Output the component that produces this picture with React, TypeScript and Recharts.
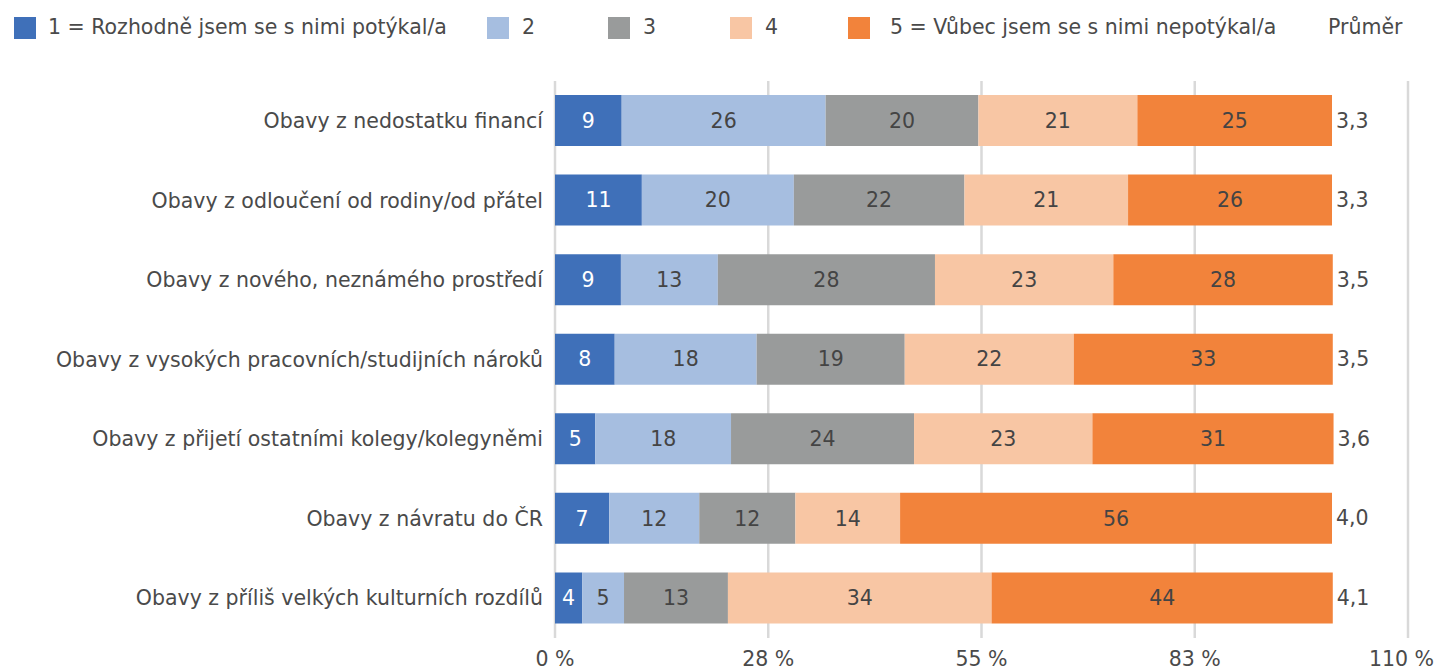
import React from "react";
import {
  BarChart,
  Bar,
  XAxis,
  YAxis,
  CartesianGrid,
  LabelList,
} from "recharts";

const categories = [
  "Obavy z nedostatku financí ",
  "Obavy z odloučení od rodiny/od přátel",
  "Obavy z nového, neznámého prostředí ",
  "Obavy z vysokých pracovních/studijních nároků",
  "Obavy z přijetí ostatními kolegy/kolegyněmi ",
  "Obavy z návratu do ČR",
  "Obavy z příliš velkých kulturních rozdílů",
];

const s1 = [8.6, 11.2, 8.5, 7.7, 5.2, 7.0, 3.5];
const s2 = [26.3, 19.6, 12.5, 18.3, 17.5, 11.6, 5.4];
const s3 = [19.7, 22.0, 28.0, 19.1, 23.6, 12.4, 13.4];
const s4 = [20.5, 21.1, 23.0, 21.8, 23.0, 13.5, 34.0];
const s5 = [25.1, 26.3, 28.3, 33.4, 31.1, 55.7, 44.0];
const averages = ["3,3", "3,3", "3,5", "3,5", "3,6", "4,0", "4,1"];

const xTicks = [0, 27.5, 55, 82.5, 110];

const seriesNames = [
  "1 = Rozhodně jsem se s nimi potýkal/a",
  "2",
  "3",
  "4",
  "5 = Vůbec jsem se s nimi nepotýkal/a",
];
const colors = ["#3F70B9", "#A6BEE0", "#999B9B", "#F8C6A4", "#F2833B"];
const labelColors = ["#ffffff", "#444444", "#444444", "#444444", "#444444"];

const data = categories.map((name, i) => ({
  name,
  s1: s1[i],
  s2: s2[i],
  s3: s3[i],
  s4: s4[i],
  s5: s5[i],
}));

const FONT = "'DejaVu Sans', sans-serif";
const FS = 20.5;
const TEXT = "#4a4a4a";

const legendPos = [
  { box: 14, text: 48 },
  { box: 487, text: 522 },
  { box: 608, text: 643 },
  { box: 730, text: 765 },
  { box: 848, text: 890 },
];

function Legend() {
  return (
    <div style={{ position: "absolute", left: 0, top: 0, width: 1438, height: 60 }}>
      {seriesNames.map((n, i) => (
        <React.Fragment key={n}>
          <div
            style={{
              position: "absolute",
              left: legendPos[i].box,
              top: 17,
              width: 22,
              height: 22,
              background: colors[i],
            }}
          />
          <div
            style={{
              position: "absolute",
              left: legendPos[i].text,
              top: 14,
              fontFamily: FONT,
              fontSize: FS,
              color: TEXT,
              whiteSpace: "nowrap",
              lineHeight: "26px",
            }}
          >
            {n}
          </div>
        </React.Fragment>
      ))}
      <div
        style={{
          position: "absolute",
          left: 1328,
          top: 14,
          fontFamily: FONT,
          fontSize: FS,
          color: TEXT,
          lineHeight: "26px",
        }}
      >
        Průměr
      </div>
    </div>
  );
}

const renderAvg = (props: any) => {
  const { x, y, width, height, index } = props;
  return (
    <text
      x={x + width + 4}
      y={y + height / 2}
      dominantBaseline="central"
      fontFamily={FONT}
      fontSize={FS}
      fill={TEXT}
    >
      {averages[index]}
    </text>
  );
};

// last tick label would run off the right edge, so anchor it at its end
const XTick = (props: any) => {
  const { x, y, payload, index } = props;
  const last = index === xTicks.length - 1;
  return (
    <text
      x={last ? x + 26 : x}
      y={y}
      dy="0.71em"
      textAnchor={last ? "end" : "middle"}
      fontFamily={FONT}
      fontSize={FS}
      fill={TEXT}
    >
      {`${Math.round(payload.value)} %`}
    </text>
  );
};

export default function App() {
  const keys = ["s1", "s2", "s3", "s4", "s5"];
  return (
    <div style={{ position: "absolute", left: 0, top: 0, width: 1438, height: 670, background: "#fff" }}>
      <Legend />
      <BarChart
        width={1438}
        height={670}
        data={data}
        layout="vertical"
        margin={{ top: 81, right: 30, bottom: 2, left: 0 }}
        barSize={51}
      >
        <CartesianGrid horizontal={false} stroke="#d9d9d9" strokeWidth={2.5} />
        <XAxis
          type="number"
          domain={[0, 110]}
          ticks={xTicks}
          axisLine={false}
          tickLine={false}
          tickMargin={7}
          height={30}
          tick={XTick}
          interval={0}
        />
        <YAxis
          type="category"
          dataKey="name"
          width={555}
          axisLine={false}
          tickLine={false}
          tickMargin={6}
          tick={{ fontFamily: FONT, fontSize: FS, fill: TEXT }}
          interval={0}
        />
        {keys.map((k, i) => (
          <Bar key={k} dataKey={k} stackId="a" fill={colors[i]} isAnimationActive={false}>
            <LabelList
              dataKey={k}
              position="center"
              formatter={(v: any) => Math.round(Number(v))}
              style={{ fontFamily: FONT, fontSize: FS, fill: labelColors[i] }}
            />
            {i === 4 && <LabelList dataKey={k} content={renderAvg} />}
          </Bar>
        ))}
      </BarChart>
    </div>
  );
}
